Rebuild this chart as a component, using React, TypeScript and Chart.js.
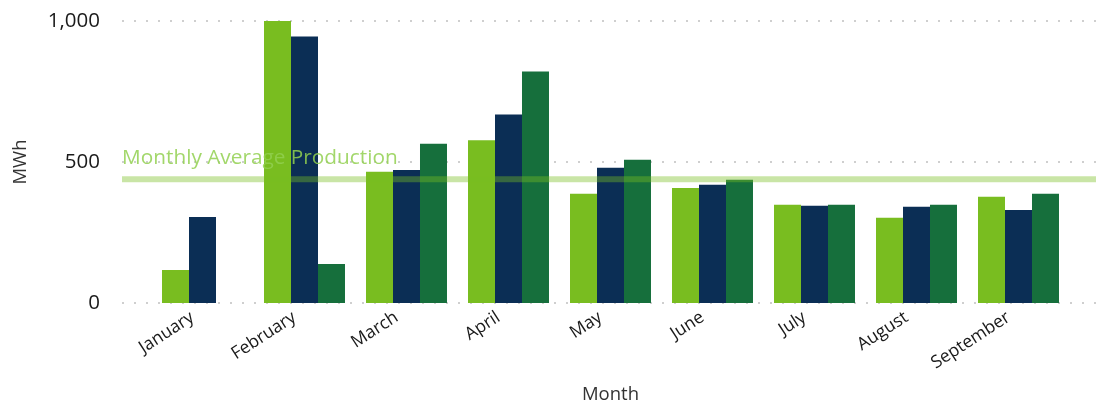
import React, { useEffect, useRef } from "react";
import { Chart, registerables } from "chart.js";

Chart.register(...registerables);

const MONTHS = ["January", "February", "March", "April", "May", "June", "July", "August", "September"];
const SERIES_A = [117, 1000, 465, 577, 387, 408, 348, 302, 377];
const SERIES_B = [305, 945, 472, 668, 480, 419, 345, 341, 330];
const SERIES_C = [null, 138, 565, 821, 508, 437, 348, 348, 387];
const Y_TICKS = [0, 500, 1000];
const AVERAGE = 439;
const AVERAGE_LABEL = "Monthly Average Production";
const Y_TITLE = "MWh";
const X_TITLE = "Month";

const COLOR_A = "#79bd20";
const COLOR_B = "#0b2e55";
const COLOR_C = "#166f3c";
const FONT = "'Open Sans', 'DejaVu Sans', sans-serif";
const GRID_LEFT = 122;

const overlayPlugin = {
  id: "overlay",
  beforeDatasetsDraw(chart: any) {
    const { ctx } = chart;
    const y = chart.scales.y;
    ctx.save();
    ctx.strokeStyle = "#cfcfcf";
    ctx.lineWidth = 2;
    ctx.setLineDash([2, 10]);
    for (const v of Y_TICKS) {
      const py = Math.round(y.getPixelForValue(v));
      ctx.beginPath();
      ctx.moveTo(GRID_LEFT, py);
      ctx.lineTo(chart.width, py);
      ctx.stroke();
    }
    ctx.restore();
  },
  afterDatasetsDraw(chart: any) {
    const { ctx } = chart;
    const y = chart.scales.y;
    const py = y.getPixelForValue(AVERAGE);
    ctx.save();
    ctx.strokeStyle = "rgba(121,189,32,0.4)";
    ctx.lineWidth = 6;
    ctx.beginPath();
    ctx.moveTo(GRID_LEFT, py);
    ctx.lineTo(chart.width, py);
    ctx.stroke();
    ctx.fillStyle = "rgba(146,208,80,0.85)";
    ctx.font = `20.8px ${FONT}`;
    ctx.textBaseline = "alphabetic";
    ctx.textAlign = "left";
    ctx.fillText(AVERAGE_LABEL, GRID_LEFT, py - 15);
    ctx.restore();
  },
};

export default function App() {
  const canvasRef = useRef<HTMLCanvasElement | null>(null);

  useEffect(() => {
    if (!canvasRef.current) return;
    const chart = new Chart(canvasRef.current, {
      type: "bar",
      data: {
        labels: MONTHS,
        datasets: [
          { label: "A", data: SERIES_A, backgroundColor: COLOR_A },
          { label: "B", data: SERIES_B, backgroundColor: COLOR_B },
          { label: "C", data: SERIES_C as any, backgroundColor: COLOR_C },
        ],
      },
      options: {
        animation: false,
        responsive: true,
        maintainAspectRatio: false,
        layout: { padding: { top: 21, right: 26.5, bottom: 0, left: 0 } },
        datasets: { bar: { categoryPercentage: 0.794, barPercentage: 1 } },
        plugins: {
          legend: { display: false },
          tooltip: { enabled: false },
        },
        scales: {
          x: {
            grid: { display: false, drawTicks: false },
            border: { display: false },
            ticks: {
              color: "#1a1a1a",
              font: { family: FONT, size: 17.5 },
              minRotation: 33,
              maxRotation: 33,
              padding: 4,
              labelOffset: -10,
              autoSkip: false,
            },
            title: {
              display: true,
              text: X_TITLE,
              color: "#333",
              font: { family: FONT, size: 18.5 },
              padding: { top: 0, bottom: 0 },
            },
            afterFit(scale: any) {
              scale.height = 103;
              scale.paddingLeft = 0;
              scale.paddingRight = 0;
            },
          },
          y: {
            min: 0,
            max: 1000,
            grid: { display: false, drawTicks: false },
            border: { display: false },
            ticks: {
              stepSize: 500,
              color: "#1a1a1a",
              font: { family: FONT, size: 20.5 },
              padding: 51.5,
              callback: (v: any) => Number(v).toLocaleString("en-US"),
            },
            title: {
              display: true,
              text: Y_TITLE,
              color: "#333",
              font: { family: FONT, size: 18.5 },
              padding: { top: 10, bottom: 0 },
            },
            afterFit(scale: any) {
              scale.width = 151.5;
              scale.paddingTop = 0;
              scale.paddingBottom = 0;
            },
          },
        },
      },
      plugins: [overlayPlugin],
    });
    return () => chart.destroy();
  }, []);

  return (
    <div style={{ position: "absolute", left: 0, top: 0, width: 1096, height: 406 }}>
      <canvas ref={canvasRef} />
    </div>
  );
}
